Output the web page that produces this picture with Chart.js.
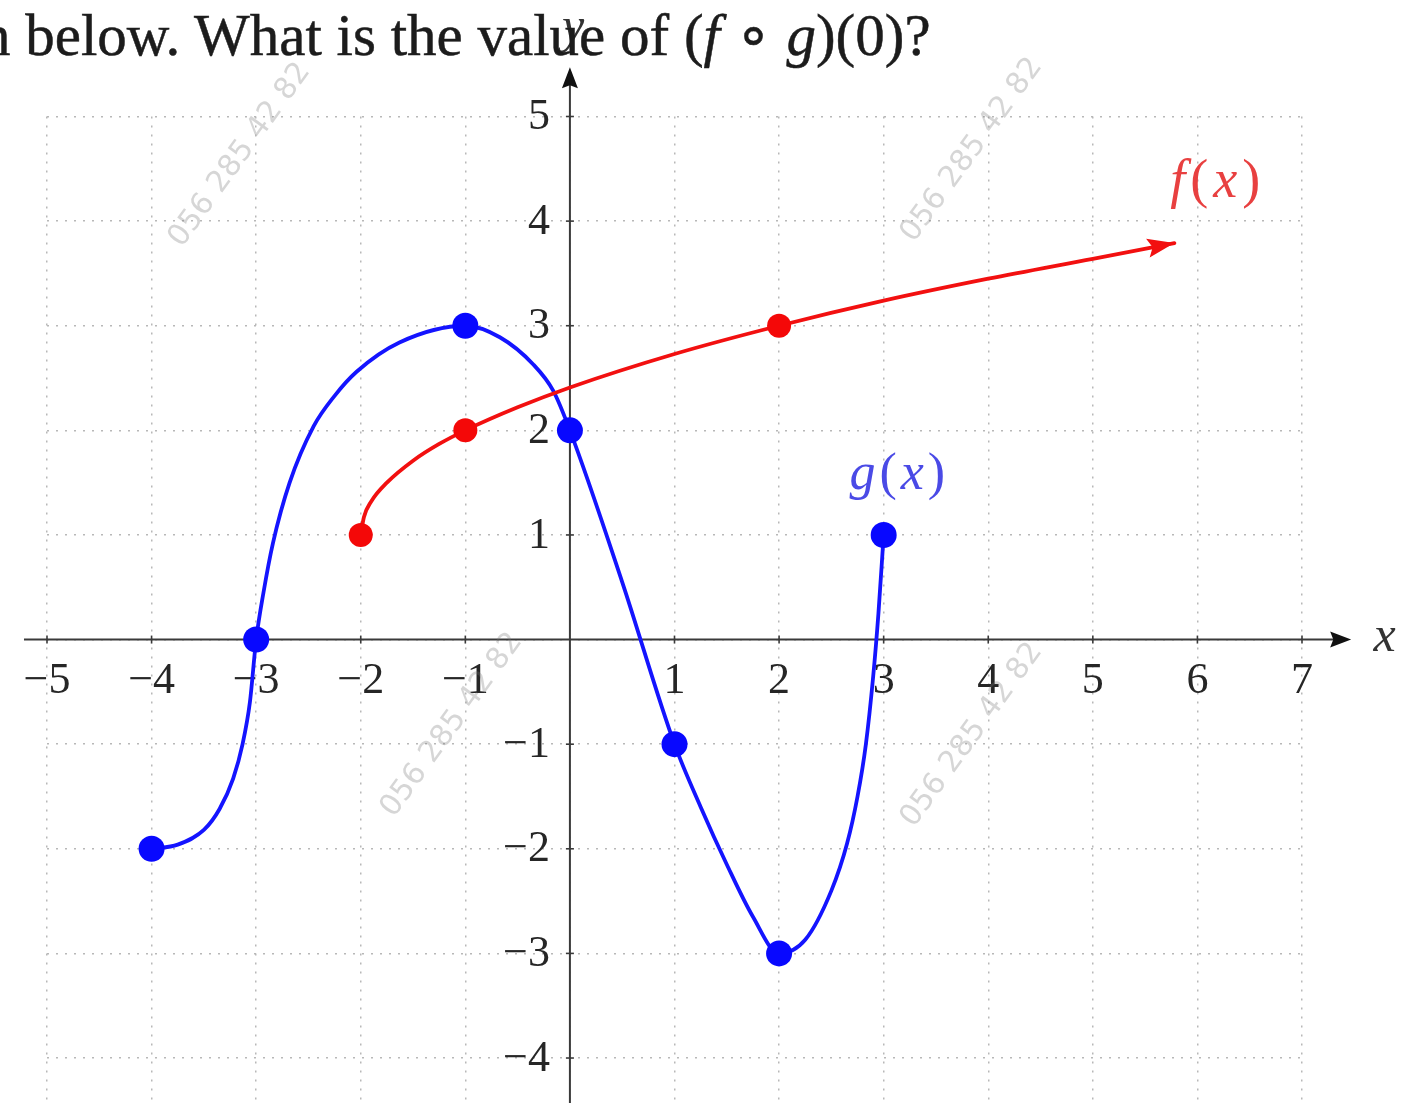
<!DOCTYPE html>
<html>
<head>
<meta charset="utf-8">
<script src="https://cdn.jsdelivr.net/npm/chart.js@4.4.0/dist/chart.umd.min.js"></script>
<style>
  html, body { margin: 0; padding: 0; background: #fff; overflow: hidden; }
  #wrap { position: relative; width: 1419px; height: 1103px; }
  canvas { position: absolute; left: 0; top: 0; }
  #title { position: absolute; left: -19px; top: 6px; font: 59px "Liberation Serif", serif; line-height: 59px;
           color: #1c1c1c; white-space: nowrap; -webkit-text-stroke: 0.5px #1c1c1c; }
</style>
</head>
<body>
<div id="wrap">
  <canvas id="c" width="1419" height="1103"></canvas>
  <div id="title">n below. What is the value of (<i>f</i> ∘ <i>g</i>)(0)?</div>
</div>
<script>
// ---- data ----
const xTicks = [-5, -4, -3, -2, -1, 0, 1, 2, 3, 4, 5, 6, 7];
const yTicks = [-4, -3, -2, -1, 0, 1, 2, 3, 4, 5];

// g(x) curve (blue)
const gX = [-4, -3.75, -3.5, -3.35, -3.22, -3.13, -3.06, -3,
            -2.93, -2.84, -2.68, -2.45, -2.25, -2.04, -1.63, -1,
            -0.67, -0.35, -0.16, 0, 0.5, 1,
            1.25, 1.5, 1.75, 2,
            2.25, 2.5, 2.65, 2.75, 2.83, 2.9, 2.95, 3];
const gY = [-2, -1.96, -1.82, -1.62, -1.33, -1.0, -0.6, 0,
            0.45, 0.92, 1.5, 2.04, 2.33, 2.56, 2.84, 3,
            2.89, 2.63, 2.38, 2, 0.55, -1,
            -1.6, -2.15, -2.65, -3,
            -2.87, -2.4, -1.95, -1.5, -1.0, -0.35, 0.25, 1];
// g(x) marked points
const gDotX = [-4, -3, -1, 0, 1, 2, 3];
const gDotY = [-2, 0, 3, 2, -1, -3, 1];

// f(x) curve (red)
const fX = [-2, -1.97, -1.9, -1.75, -1.5, -1.25, -1, -0.5, 0, 1, 2, 3, 4, 5, 5.78];
const fY = [1, 1.17, 1.32, 1.5, 1.71, 1.87, 2, 2.22, 2.41, 2.73, 3, 3.24, 3.45, 3.64, 3.79];
// f(x) marked points
const fDotX = [-2, -1, 2];
const fDotY = [1, 2, 3];

// ---- helpers ----
const pts = (xs, ys) => xs.map((x, i) => ({ x: x, y: ys[i] }));
const fmt = v => v === 0 ? '' : (v < 0 ? '\u2212' + (-v) : String(v));
const SERIF = '"Liberation Serif", "DejaVu Serif", serif';
const BLUE = '#1414ff', RED = '#f21010';

function arrowHead(ctx, tx, ty, ang, len, half, color, notch) {
  const c = Math.cos(ang), s = Math.sin(ang);
  const bx = tx - len * c, by = ty - len * s;
  const nx = tx - len * notch * c, ny = ty - len * notch * s;
  ctx.save();
  ctx.fillStyle = color;
  ctx.beginPath();
  ctx.moveTo(tx, ty);
  ctx.lineTo(bx - half * s, by + half * c);
  ctx.lineTo(nx, ny);
  ctx.lineTo(bx + half * s, by - half * c);
  ctx.closePath();
  ctx.fill();
  ctx.restore();
}

// draw math-like text: segments [text, italic]
function mathText(ctx, segs, cx, cy, size, color, gap) {
  ctx.save();
  ctx.fillStyle = color;
  ctx.textBaseline = 'middle';
  ctx.textAlign = 'left';
  const widths = segs.map(([t, it]) => {
    ctx.font = (it ? 'italic ' : '') + size + 'px ' + SERIF;
    return ctx.measureText(t).width;
  });
  const w = widths.reduce((a, b) => a + b, 0) + gap * (segs.length - 1);
  let x = cx - w / 2;
  segs.forEach(([t, it], i) => {
    ctx.font = (it ? 'italic ' : '') + size + 'px ' + SERIF;
    ctx.fillText(t, x, cy);
    x += widths[i] + gap;
  });
  ctx.restore();
}

const decor = {
  id: 'decor',
  beforeDatasetsDraw(chart) {
    const { ctx, scales: { x, y } } = chart;
    const x0 = x.getPixelForValue(0), y0 = y.getPixelForValue(0);
    ctx.save();
    // tick labels
    ctx.fillStyle = '#262626';
    ctx.font = '44px ' + SERIF;
    ctx.textBaseline = 'middle';
    ctx.textAlign = 'center';
    xTicks.forEach(v => { if (v !== 0) ctx.fillText(fmt(v), x.getPixelForValue(v), y0 + 42); });
    ctx.textAlign = 'right';
    yTicks.forEach(v => { if (v !== 0) ctx.fillText(fmt(v), x0 - 20, y.getPixelForValue(v) + 1); });

    ctx.strokeStyle = '#3a3a3a';
    ctx.lineWidth = 2;
    // x axis
    const xl = x.getPixelForValue(-5.22), xr = x.getPixelForValue(7.47);
    ctx.beginPath(); ctx.moveTo(xl, y0); ctx.lineTo(xr - 10, y0); ctx.stroke();
    // y axis
    const yt = y.getPixelForValue(5.47);
    ctx.beginPath(); ctx.moveTo(x0, chart.height); ctx.lineTo(x0, yt + 10); ctx.stroke();
    // tick marks
    ctx.lineWidth = 1.6;
    xTicks.forEach(v => {
      if (v === 0) return;
      const px = x.getPixelForValue(v);
      ctx.beginPath(); ctx.moveTo(px, y0 - 4); ctx.lineTo(px, y0 + 4); ctx.stroke();
    });
    yTicks.forEach(v => {
      if (v === 0) return;
      const py = y.getPixelForValue(v);
      ctx.beginPath(); ctx.moveTo(x0 - 4, py); ctx.lineTo(x0 + 4, py); ctx.stroke();
    });
    ctx.restore();
    arrowHead(ctx, xr, y0, 0, 21, 8, '#111', 0.85);
    arrowHead(ctx, x0, yt, -Math.PI / 2, 21, 8, '#111', 0.85);
  },
  afterDatasetsDraw(chart) {
    const { ctx } = chart;
    const meta = chart.getDatasetMeta(3);
    const p = meta.data;
    const p1 = p[p.length - 1], p0 = p[p.length - 2];
    const ang = Math.atan2(p1.y - p0.y, p1.x - p0.x);
    arrowHead(ctx, p1.x, p1.y, ang, 27, 9.5, RED, 0.82);
  },
  afterDraw(chart) {
    const { ctx, scales: { x, y } } = chart;
    // curve labels
    mathText(ctx, [['f', true], ['(', false], ['x', true], [')', false]],
      x.getPixelForValue(6.17), y.getPixelForValue(4.37), 54, '#e84040', 5);
    mathText(ctx, [['g', true], ['(', false], ['x', true], [')', false]],
      x.getPixelForValue(3.13), y.getPixelForValue(1.57), 52, '#4a4ae6', 4);
    // axis names
    mathText(ctx, [['x', true]], x.getPixelForValue(7.79), y.getPixelForValue(0.02), 50, '#333', 0);
    mathText(ctx, [['y', true]], x.getPixelForValue(0.03), y.getPixelForValue(5.84), 50, '#333', 0);
    // faint watermarks
    const marks = [[240, 155], [972, 150], [452, 725], [972, 735]];
    ctx.save();
    ctx.fillStyle = 'rgba(120,120,120,0.3)';
    ctx.font = '30px "DejaVu Sans", sans-serif';
    ctx.textAlign = 'center';
    ctx.textBaseline = 'middle';
    marks.forEach(([mx, my]) => {
      ctx.save();
      ctx.translate(mx, my);
      ctx.rotate(-54 * Math.PI / 180);
      ctx.fillText('056 285 42 82', 0, 0);
      ctx.restore();
    });
    ctx.restore();
  }
};

new Chart(document.getElementById('c'), {
  type: 'scatter',
  data: {
    datasets: [
      { label: 'g points', data: pts(gDotX, gDotY), showLine: false, pointRadius: 13,
        pointBackgroundColor: '#0808ff', pointBorderColor: '#0808ff', pointBorderWidth: 0, order: 0, clip: false },
      { label: 'f points', data: pts(fDotX, fDotY), showLine: false, pointRadius: 12,
        pointBackgroundColor: '#f40808', pointBorderColor: '#f40808', pointBorderWidth: 0, order: 0, clip: false },
      { label: 'g(x)', data: pts(gX, gY), showLine: true, pointRadius: 0, borderColor: BLUE, borderWidth: 3.8,
        cubicInterpolationMode: 'monotone', order: 2, clip: false },
      { label: 'f(x)', data: pts(fX, fY), showLine: true, pointRadius: 0, borderColor: RED, borderWidth: 3.8,
        cubicInterpolationMode: 'monotone', order: 1, clip: false }
    ]
  },
  options: {
    responsive: false,
    animation: false,
    devicePixelRatio: 1,
    layout: { autoPadding: false, padding: { left: 47, right: 117, top: 116.5, bottom: 0 } },
    plugins: { legend: { display: false }, tooltip: { enabled: false } },
    elements: { line: { borderCapStyle: 'round', borderJoinStyle: 'round' } },
    scales: {
      x: {
        type: 'linear', min: -5, max: 7, position: { y: 0 },
        afterBuildTicks: s => { s.ticks = xTicks.map(v => ({ value: v })); },
        ticks: { display: false },
        grid: { color: '#b8b8b8', lineWidth: 1.5, drawTicks: false },
        border: { display: false, dash: [2, 7] }
      },
      y: {
        type: 'linear', min: -4.43, max: 5, position: { x: 0 },
        afterBuildTicks: s => { s.ticks = yTicks.map(v => ({ value: v })); },
        ticks: { display: false },
        grid: { color: '#b8b8b8', lineWidth: 1.5, drawTicks: false },
        border: { display: false, dash: [2, 7] }
      }
    }
  },
  plugins: [decor]
});
</script>
</body>
</html>
